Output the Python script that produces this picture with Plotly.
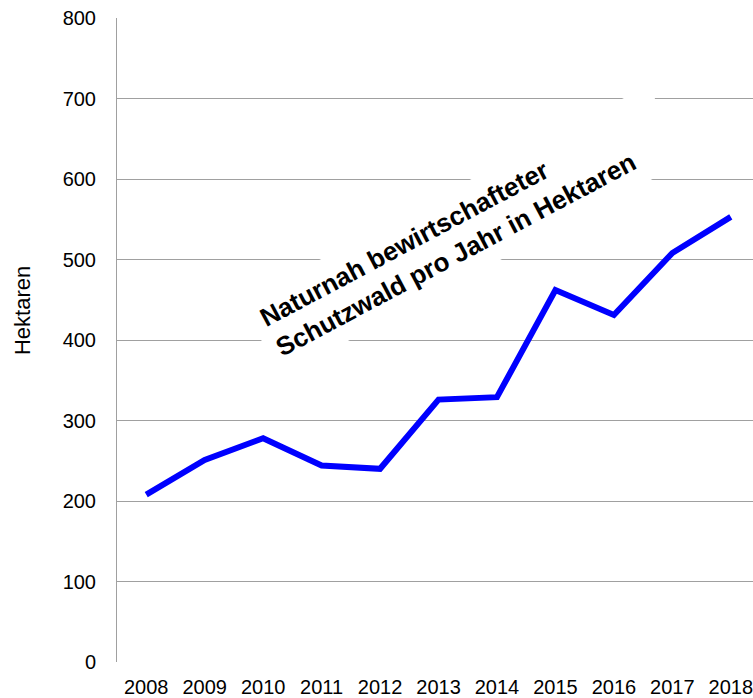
import plotly.graph_objects as go

years = ["2008", "2009", "2010", "2011", "2012", "2013", "2014", "2015", "2016", "2017", "2018"]
hektaren = [208, 251, 278, 244, 240, 326, 329, 462, 431, 508, 553]
y_ticks = [0, 100, 200, 300, 400, 500, 600, 700, 800]

fig = go.Figure()
fig.add_trace(go.Scatter(
    x=list(range(len(years))), y=hektaren, mode="lines",
    line=dict(color="#0000FF", width=6), hoverinfo="skip", showlegend=False,
))

FAM = "Liberation Sans, Arial, sans-serif"
font = dict(family=FAM, size=20, color="#000000")
fig.update_layout(
    width=753, height=698,
    margin=dict(l=117, r=0, t=18, b=34),
    paper_bgcolor="white", plot_bgcolor="white",
    font=font,
    xaxis=dict(
        tickmode="array", tickvals=list(range(len(years))), ticktext=years,
        range=[-0.5, 10.38], showgrid=False, zeroline=False,
        showline=False, ticks="", tickfont=font, ticklabelstandoff=11,
        ticklabeloverflow="allow",
    ),
    yaxis=dict(
        tickmode="array", tickvals=y_ticks, range=[0, 800],
        showgrid=True, gridcolor="#a0a0a0", gridwidth=1,
        zeroline=False, showline=True, linecolor="#a0a0a0", linewidth=1,
        ticks="", ticklabelstandoff=16, tickfont=font,
        ticklabeloverflow="allow",
    ),
    annotations=[
        dict(
            x=5.44, y=536, xref="x", yref="y",
            text="Naturnah bewirtschafteter<br>Schutzwald pro Jahr in Hektaren",
            showarrow=False, textangle=-28, align="left", width=440,
            xanchor="center", yanchor="middle",
            font=dict(family=FAM, size=26, color="#000000", weight="bold"),
            bgcolor="white", borderpad=10,
        ),
        dict(
            x=(22 - 117) / 636, y=(664 - 312) / 646, xref="paper", yref="paper",
            text="Hektaren", showarrow=False, textangle=-90,
            xanchor="center", yanchor="middle",
            font=dict(family=FAM, size=22, color="#000000"),
        ),
    ],
)
fig.write_html(
    "out.html",
    config={"displayModeBar": False},
    post_script="document.body.style.margin='0';document.body.style.overflow='hidden';",
)
